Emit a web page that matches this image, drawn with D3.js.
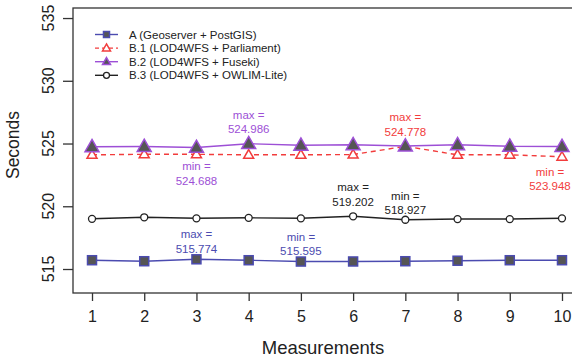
<!DOCTYPE html>
<html>
<head>
<meta charset="utf-8">
<script src="https://cdn.jsdelivr.net/npm/d3@7"></script>
<style>
  body { margin: 0; background: #fff; }
  text { font-family: "Liberation Sans", Arial, sans-serif; }
</style>
</head>
<body>
<div id="wrapper"></div>
<script>
// measurement runs 1..10
const measurements = [1, 2, 3, 4, 5, 6, 7, 8, 9, 10]
const yTicks = [515, 520, 525, 530, 535]

// seconds per run
const seriesA  = [515.70, 515.62, 515.774, 515.70, 515.595, 515.60, 515.62, 515.66, 515.70, 515.70]
const seriesB1 = [524.10, 524.14, 524.14, 524.10, 524.10, 524.12, 524.778, 524.10, 524.10, 523.948]
const seriesB2 = [524.74, 524.76, 524.688, 524.986, 524.86, 524.90, 524.80, 524.90, 524.78, 524.76]
const seriesB3 = [519.00, 519.12, 519.04, 519.08, 519.04, 519.202, 518.927, 518.98, 518.98, 519.04]

const seriesNames = [
  "A (Geoserver + PostGIS)",
  "B.1 (LOD4WFS + Parliament)",
  "B.2 (LOD4WFS + Fuseki)",
  "B.3 (LOD4WFS + OWLIM-Lite)"
]

// min / max labels: series index, point index, label
const noteSeries = [2, 2, 1, 1, 3, 3, 0, 0]
const notePoint  = [3, 2, 6, 9, 5, 6, 2, 4]
const noteLabel  = ["max =", "min =", "max =", "min =", "max =", "min =", "max =", "min ="]

function draw() {
  const width = 572, height = 359
  const box = { left: 73, top: 8, right: 581, bottom: 293 }

  const svg = d3.select("#wrapper").append("svg")
    .attr("width", width)
    .attr("height", height)

  const x = d3.scaleLinear().domain([0.636, 10.364]).range([box.left, box.right])
  const y = d3.scaleLinear().domain([513.088, 535.8]).range([box.bottom, box.top])

  const styles = [
    { color: "#4b4bb0", dash: null, shape: "square", fill: "#555", size: 9 },
    { color: "#f23c3c", dash: "5,4", shape: "triangle", fill: "#fff", size: 10 },
    { color: "#9d4fd6", dash: null, shape: "triangle", fill: "#555", size: 14 },
    { color: "#222", dash: null, shape: "circle", fill: "#fff", size: 7 }
  ]
  const allSeries = [seriesA, seriesB1, seriesB2, seriesB3]

  // box
  svg.append("rect")
    .attr("x", box.left).attr("y", box.top)
    .attr("width", box.right - box.left).attr("height", box.bottom - box.top)
    .attr("fill", "none").attr("stroke", "#333").attr("stroke-width", 1.3)

  // axes
  const xAxis = svg.append("g")
    .attr("transform", `translate(0,${box.bottom})`)
    .call(d3.axisBottom(x).tickValues(measurements).tickSize(8).tickPadding(10))
  xAxis.select(".domain").remove()
  xAxis.selectAll("line").attr("stroke", "#333").attr("stroke-width", 1.3)
  xAxis.selectAll("text").attr("font-size", 16).attr("fill", "#222")
    .style("font-family", "Liberation Sans, Arial, sans-serif")

  const yAxis = svg.append("g")
    .attr("transform", `translate(${box.left},0)`)
    .call(d3.axisLeft(y).tickValues(yTicks).tickSize(10).tickFormat(d3.format("d")))
  yAxis.select(".domain").remove()
  yAxis.selectAll("line").attr("stroke", "#333").attr("stroke-width", 1.3)
  yAxis.selectAll("text").remove()
  svg.append("g").selectAll("text")
    .data(yTicks)
    .enter()
    .append("text")
    .attr("transform", d => `translate(54,${y(d)}) rotate(-90)`)
    .attr("text-anchor", "middle")
    .attr("font-size", 16)
    .attr("fill", "#222")
    .text(d => d)

  svg.append("text")
    .attr("transform", `translate(19,145) rotate(-90)`)
    .attr("text-anchor", "middle")
    .attr("font-size", 17.5)
    .attr("fill", "#222")
    .text("Seconds")

  svg.append("text")
    .attr("x", 323).attr("y", 354)
    .attr("text-anchor", "middle")
    .attr("font-size", 18.5)
    .attr("fill", "#222")
    .text("Measurements")

  const plot = svg.append("g")

  function marker(g, st, cx, cy, s) {
    if (st.shape === "square") {
      g.append("rect").attr("x", cx - s / 2).attr("y", cy - s / 2)
        .attr("width", s).attr("height", s)
        .attr("fill", st.fill).attr("stroke", st.color).attr("stroke-width", 1.5)
    } else if (st.shape === "triangle") {
      const h = s * 0.87
      g.append("path")
        .attr("d", `M${cx},${cy - h * 0.6}L${cx + s / 2},${cy + h * 0.4}L${cx - s / 2},${cy + h * 0.4}Z`)
        .attr("fill", st.fill).attr("stroke", st.color).attr("stroke-width", 1.5)
    } else {
      g.append("circle").attr("cx", cx).attr("cy", cy).attr("r", s / 2)
        .attr("fill", st.fill).attr("stroke", st.color).attr("stroke-width", 1.3)
    }
  }

  const line = d3.line().x((d, i) => x(measurements[i])).y(d => y(d))
  const drawOrder = [3, 0, 1, 2]
  drawOrder.forEach(k => {
    const st = styles[k]
    plot.append("path")
      .attr("d", line(allSeries[k]))
      .attr("fill", "none")
      .attr("stroke", st.color)
      .attr("stroke-width", 1.4)
      .attr("stroke-dasharray", st.dash)
  })
  drawOrder.forEach(k => {
    const st = styles[k]
    allSeries[k].forEach((v, i) => marker(plot, st, x(measurements[i]), y(v), st.size))
  })

  // min / max notes
  const notes = svg.append("g")
  noteSeries.forEach((s, n) => {
    const p = notePoint[n]
    const v = allSeries[s][p]
    const isMax = noteLabel[n] === "max ="
    let cx = x(measurements[p])
    let top = isMax ? y(v) - 34 : y(v) + 14
    if (s === 3) top = isMax ? y(v) - 34 : y(v) - 29
    if (s === 1 && !isMax) { cx -= 12; top = y(v) + 10 }
    if (s === 0) top = y(v) - 30
    const t = notes.append("text")
      .attr("text-anchor", "middle")
      .attr("font-size", 11.5)
      .attr("fill", styles[s].color)
    t.append("tspan").attr("x", cx).attr("y", top + 9).text(noteLabel[n])
    t.append("tspan").attr("x", cx).attr("y", top + 23.5).text(v.toFixed(3))
  })

  // legend
  const legend = svg.append("g")
  seriesNames.forEach((name, k) => {
    const st = styles[k]
    const ly = 34.5 + k * 13.6
    legend.append("line")
      .attr("x1", 95).attr("x2", 118).attr("y1", ly).attr("y2", ly)
      .attr("stroke", st.color).attr("stroke-width", 1.4)
      .attr("stroke-dasharray", st.dash ? "4,3" : null)
    marker(legend, st, 106.5, ly, st.shape === "triangle" ? 8 : 6)
    legend.append("text")
      .attr("x", 129).attr("y", ly + 4)
      .attr("font-size", 11.5)
      .attr("fill", "#222")
      .text(name)
  })
}

draw()
</script>
</body>
</html>
